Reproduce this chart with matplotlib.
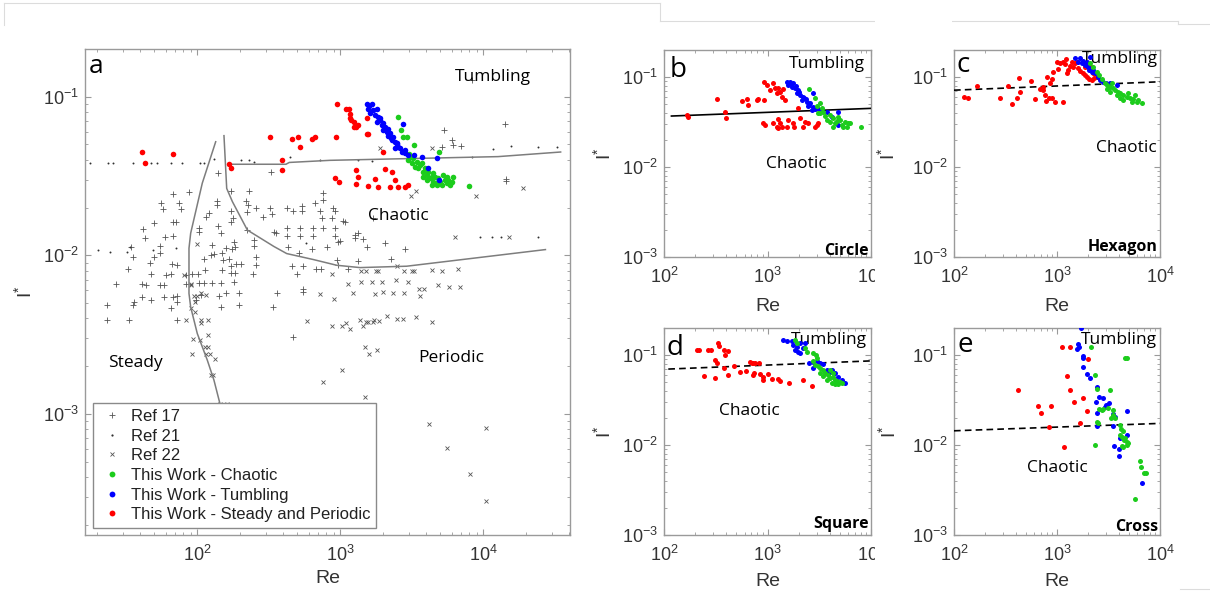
import matplotlib
matplotlib.use("Agg")
import matplotlib.pyplot as plt
import matplotlib.ticker as mticker
from matplotlib.lines import Line2D
from matplotlib.patches import Rectangle

W, H = 1210, 595
plt.rcParams['font.family'] = ['Liberation Sans', 'DejaVu Sans']
plt.rcParams['axes.unicode_minus'] = False
plt.rcParams['mathtext.fontset'] = 'custom'
plt.rcParams['mathtext.rm'] = 'Liberation Sans'
ANN = ['Open Sans', 'DejaVu Sans']

RED, BLUE, GREEN = '#ff0000', '#0000ff', '#1ccc1c'
MK_GREY = '#555555'
BND_GREY = '#7d7d7d'
SPINE = '#9a9a9a'

# ---------------- Panel a : literature data (Re, I*) ----------------
ref17 = [(140, 0.0332), (68, 0.0243), (87.5, 0.0249), (56.1, 0.0213), (74.9, 0.0213), (57.9, 0.0195),
         (77.3, 0.0195), (137, 0.0220), (137, 0.0208), (121, 0.0185), (173, 0.0191), (178, 0.0171),
         (115, 0.0175), (68, 0.0163), (70.6, 0.0163), (49.8, 0.0159), (42, 0.0147), (43, 0.0128),
         (59.5, 0.0131), (68, 0.0132), (103, 0.0148), (103, 0.0141), (140, 0.0152), (146, 0.0139),
         (181, 0.0122), (224, 0.0144), (249, 0.0125), (322, 0.0198), (335, 0.0181), (344, 0.0141),
         (353, 0.0138), (230, 0.0254), (220, 0.0220), (226, 0.0208), (171, 0.0254), (259, 0.0198),
         (290, 0.0175), (326, 0.0337), (224, 0.0188), (171, 0.0163),
         (34.2, 0.01124), (35.7, 0.00976), (32.8, 0.00824), (49.8, 0.00976), (46.7, 0.00894),
         (47.7, 0.00766), (54.9, 0.01034), (54.9, 0.0114), (66.9, 0.00886), (71.7, 0.00865),
         (60.1, 0.00755), (65.8, 0.00766), (82.9, 0.00748), (26.9, 0.00663), (41.3, 0.00663),
         (43.6, 0.00648), (54.9, 0.00648), (58.5, 0.00648), (82.9, 0.00663), (92.3, 0.00766),
         (101, 0.00766), (113, 0.00804), (111, 0.00953), (124, 0.01001), (131, 0.01024),
         (150, 0.01034), (152, 0.0093), (167, 0.00944), (171, 0.00853), (188, 0.00886),
         (201, 0.00878), (171, 0.00774), (185, 0.00774), (245, 0.00766), (256, 0.00865),
         (256, 0.00976), (249, 0.0114), (185, 0.01134), (176, 0.01097), (158, 0.01113),
         (127, 0.0116), (150, 0.00812), (103, 0.00669), (111, 0.00669), (127, 0.00669),
         (146, 0.00669), (181, 0.00679), (158, 0.00579), (196, 0.00579), (142, 0.00555),
         (146, 0.00474), (196, 0.00484), (340, 0.00474), (363, 0.00574), (41.3, 0.00545),
         (47.2, 0.00521), (36.1, 0.00508), (35.7, 0.00484), (23.5, 0.00484), (23.5, 0.0039),
         (33.3, 0.0039), (58.5, 0.00545), (65.8, 0.00463), (68, 0.00545), (71.7, 0.0055),
         (72.5, 0.00508), (71.7, 0.0039), (97.4, 0.00521), (107, 0.00563),
         (433, 0.01134), (517, 0.01034), (637, 0.01097), (802, 0.01134), (968, 0.01219),
         (1527, 0.01134), (2830, 0.01097), (457, 0.00853), (545, 0.00853), (495, 0.00766),
         (676, 0.00824), (728, 0.00824), (942, 0.0093), (968, 0.00865), (1337, 0.00921),
         (2250, 0.00944), (1138, 0.00824), (545, 0.00617), (545, 0.00588), (464, 0.00303),
         (421, 0.0199), (469, 0.019), (537, 0.0204), (537, 0.019), (665, 0.0214), (721, 0.019),
         (740, 0.0173), (760, 0.0246), (760, 0.0224), (893, 0.0199), (918, 0.019), (869, 0.0173),
         (1050, 0.0165), (1079, 0.0161), (421, 0.0148), (421, 0.0132), (522, 0.0148), (640, 0.0148),
         (760, 0.0148), (918, 0.0148), (918, 0.0132), (995, 0.0123), (1265, 0.0135), (1337, 0.0138),
         (1432, 0.0126), (1265, 0.0129), (522, 0.0132), (640, 0.0132), (2053, 0.012), (1702, 0.0173),
         (8400, 0.127), (14200, 0.0676), (14500, 0.0304), (14500, 0.0294), (5300, 0.0619),
         (6000, 0.053), (6180, 0.0493), (7000, 0.0486), (5140, 0.0481)]

ref21 = [(17.8, 0.038), (23.9, 0.038), (25.9, 0.038), (35.7, 0.038), (47.2, 0.038), (52, 0.038),
         (65.8, 0.038), (77.8, 0.038), (104, 0.038), (111, 0.038), (131, 0.0405), (201, 0.040),
         (230, 0.040), (249, 0.039), (445, 0.0418), (721, 0.040), (1337, 0.0399), (1657, 0.0395),
         (8280, 0.0418), (11740, 0.047), (15600, 0.049), (24000, 0.048), (32600, 0.048),
         (20.3, 0.0108), (24.5, 0.0105), (32, 0.0105), (34, 0.0112), (49, 0.0108), (70.6, 0.0111),
         (572, 0.0119), (9530, 0.0130), (11460, 0.0130), (13370, 0.0130), (24000, 0.0130)]

ref22 = [(90.8, 0.00663), (94.8, 0.00555), (99, 0.00555), (107, 0.00579), (115, 0.00563),
         (95.9, 0.00508), (89.9, 0.00463), (95.9, 0.0044), (107, 0.0039), (107, 0.00372),
         (118, 0.0039), (82.9, 0.0039), (119, 0.00316), (93.3, 0.00296), (104, 0.00291),
         (113, 0.00262), (119, 0.00262), (115, 0.0024), (123, 0.0024), (132, 0.00223),
         (92.3, 0.00239), (125, 0.00175), (129, 0.00175), (144, 0.00116), (162, 0.00116),
         (100, 0.01184), (80.7, 0.00748), (89.9, 0.00648),
         (879, 0.00766), (1394, 0.00794), (1510, 0.00794), (1766, 0.00794), (1843, 0.00794),
         (2477, 0.00853), (2802, 0.00794), (3155, 0.00794), (3291, 0.00794), (4397, 0.00812),
         (5113, 0.00794), (6683, 0.00824), (1138, 0.00663), (1394, 0.00679), (1656, 0.00679),
         (1945, 0.00679), (2438, 0.00703), (2988, 0.00679), (3566, 0.00617), (3866, 0.00617),
         (4845, 0.00648), (5783, 0.00632), (6866, 0.00632), (721, 0.0057), (903, 0.00528),
         (1234, 0.00574), (1746, 0.0057), (1999, 0.00584), (2348, 0.00574), (2802, 0.00574),
         (3606, 0.00555), (581, 0.00386), (879, 0.00357), (1021, 0.00357), (1096, 0.00375),
         (1169, 0.00345), (1372, 0.0039), (1432, 0.00357), (1510, 0.0038), (1569, 0.0038),
         (1683, 0.0038), (1728, 0.0039), (1873, 0.00384), (2110, 0.00415), (2504, 0.00395),
         (2730, 0.00395), (3362, 0.00409), (4352, 0.0038), (1486, 0.00265), (1595, 0.0024),
         (1794, 0.00253), (1021, 0.0019), (760, 0.00159), (1486, 0.00128),
         (4170, 0.000861), (10400, 0.000816), (5550, 0.000611), (8070, 0.000415), (10400, 0.000282),
         (4350, 0.0472), (1893, 0.0472), (3100, 0.0238), (3380, 0.0254), (8890, 0.0238),
         (19100, 0.0265), (6380, 0.0131), (15100, 0.013)]

# regime boundaries (Re, I*)
steady_bnd = [(134.5, 0.052), (108.4, 0.0285), (89.9, 0.01377), (87.5, 0.01107), (87.5, 0.00574),
              (89.9, 0.00472), (100, 0.00321), (117.5, 0.00218), (130.8, 0.00163), (144, 0.00116)]
periodic_bnd = [(153.7, 0.0568), (160.6, 0.0264), (176, 0.0218), (224, 0.01442), (344, 0.01135),
                (422, 0.01025), (647, 0.0094), (943, 0.00865), (1374, 0.00836), (2912, 0.00853),
                (12680, 0.0100), (27200, 0.01086)]
tumbling_bnd = [(166.6, 0.0375), (417, 0.0375), (440, 0.0385), (847, 0.0397), (12680, 0.0419),
                (34750, 0.0448)]

# ---------------- Panel a : this work ----------------
a_red = [(41, 0.0448), (43, 0.0383), (68, 0.0433), (168, 0.0374), (171, 0.0357), (321, 0.0557),
         (391, 0.0397), (391, 0.0343), (456, 0.0538), (509, 0.0557), (525, 0.0482), (632, 0.0538),
         (664, 0.0557), (927, 0.0557), (945, 0.0894), (916, 0.0306), (974, 0.029), (1100, 0.0836),
         (1150, 0.0836), (1170, 0.0781), (1170, 0.0737), (1195, 0.0709), (1247, 0.0692),
         (1247, 0.0644), (1285, 0.0644), (1325, 0.0666), (1285, 0.028), (1285, 0.0343),
         (1325, 0.0312), (1527, 0.0737), (1546, 0.0584), (1575, 0.0584), (1567, 0.0275),
         (1750, 0.0304), (1838, 0.027), (1978, 0.0448), (2040, 0.0351), (2210, 0.027),
         (2306, 0.0335), (2425, 0.03), (2533, 0.027), (2830, 0.027), (2957, 0.0276)]
a_blue = [(1545, 0.0898), (1673, 0.0898), (1570, 0.0836), (1794, 0.0836), (1612, 0.0785),
          (1748, 0.0766), (1843, 0.0747), (1893, 0.0712), (1794, 0.0696), (1945, 0.0662),
          (2053, 0.0647), (1999, 0.0616), (2109, 0.0601), (2225, 0.0587), (2166, 0.0568),
          (2347, 0.0559), (2285, 0.0533), (2411, 0.052), (2477, 0.0508), (2544, 0.0484),
          (2411, 0.0472), (2613, 0.0472), (2756, 0.0669), (2830, 0.0461), (2985, 0.0429),
          (2830, 0.0439), (3703, 0.0418), (4124, 0.0353), (4717, 0.0408), (4920, 0.0298),
          (1600, 0.088), (1700, 0.082), (1900, 0.073), (2000, 0.068), (2150, 0.063),
          (2250, 0.055), (2500, 0.050), (2700, 0.045), (3300, 0.043)]
a_green = [(2544, 0.0747), (2641, 0.0616), (2756, 0.0559), (2908, 0.0559), (3288, 0.0496),
           (3034, 0.0433), (3117, 0.0418), (3236, 0.0408), (3417, 0.0389), (3606, 0.0371),
           (3510, 0.0353), (3804, 0.0337), (4014, 0.0321), (4236, 0.0305), (4470, 0.0291),
           (4717, 0.0277), (4977, 0.0291), (5251, 0.0321), (5394, 0.0298), (5541, 0.0284),
           (5847, 0.0277), (6005, 0.0291), (6168, 0.0313), (7980, 0.0275), (4014, 0.0298),
           (4352, 0.0277), (4717, 0.0284), (2985, 0.0399), (3152, 0.038), (3325, 0.0362),
           (3703, 0.038), (3907, 0.0353), (4124, 0.0334), (4352, 0.0313), (4592, 0.0313),
           (4845, 0.0305), (5113, 0.0277), (5692, 0.0298), (3804, 0.0313), (4470, 0.0329),
           (4920, 0.0446), (5541, 0.0313)]

# ---------------- Panel b : Circle ----------------
b_red = [(168, 0.0378), (172, 0.0356), (323, 0.0566), (388, 0.0412), (397, 0.0347), (563, 0.0541),
         (629, 0.0566), (653, 0.0489), (786, 0.0555), (815, 0.057), (925, 0.0555), (932, 0.0887),
         (981, 0.0815), (1057, 0.0717), (1138, 0.085), (1181, 0.0748), (1225, 0.0658), (1272, 0.0748),
         (1320, 0.0687), (1370, 0.0605), (1476, 0.0555), (1402, 0.073), (912, 0.0311), (946, 0.0293),
         (1272, 0.0338), (1320, 0.0305), (1370, 0.0281), (1225, 0.0281), (1531, 0.0276), (1777, 0.0305),
         (1815, 0.0276), (2060, 0.0347), (2303, 0.0319), (2186, 0.0281), (2479, 0.0305), (2876, 0.0281),
         (2983, 0.0293), (3095, 0.0305), (1588, 0.0333), (1986, 0.0449), (1272, 0.0269), (1138, 0.0305)]
b_blue = [(1531, 0.0887), (1648, 0.0887), (1745, 0.085), (1588, 0.0815), (1710, 0.0781), (1844, 0.0748),
          (1986, 0.0717), (1914, 0.0658), (2060, 0.0632), (2218, 0.0605), (2138, 0.0555), (2389, 0.0532),
          (2573, 0.051), (2479, 0.0477), (2773, 0.0468), (2672, 0.043), (2983, 0.0449), (3216, 0.043),
          (3727, 0.0412), (4166, 0.0356), (4833, 0.0412), (4833, 0.0293), (2773, 0.067), (1672, 0.0837),
          (1882, 0.0794), (2030, 0.0687), (2250, 0.058), (2351, 0.0566), (2537, 0.0489), (2876, 0.0438)]
b_green = [(2537, 0.073), (2876, 0.058), (3216, 0.0519), (2983, 0.0477), (3337, 0.0449), (3461, 0.0412),
           (3095, 0.0395), (4015, 0.0378), (4326, 0.0347), (3727, 0.0333), (5015, 0.0333), (5603, 0.0319),
           (6034, 0.0305), (4490, 0.0305), (5203, 0.0293), (5815, 0.0281), (6262, 0.0305), (4326, 0.0281),
           (4015, 0.0319), (7943, 0.0276), (3216, 0.0395), (3591, 0.0368), (4658, 0.0327), (5400, 0.0281),
           (4833, 0.0356)]
b_fit_re = [118, 10000]
b_fit_i = [0.0369, 0.0449]

# ---------------- Panel c : Hexagon ----------------
c_red = [(125, 0.0605), (138, 0.0589), (168, 0.0801), (280, 0.058), (337, 0.0795), (363, 0.0501),
         (412, 0.058), (437, 0.0687), (427, 0.0985), (555, 0.0911), (611, 0.057), (684, 0.073),
         (726, 0.0769), (737, 0.0717), (765, 0.0632), (782, 0.0546), (794, 0.1009), (843, 0.058),
         (888, 0.0589), (901, 0.0952), (921, 0.113), (1031, 0.123), (1070, 0.142), (993, 0.147),
         (1152, 0.148), (1196, 0.14), (1241, 0.11), (1288, 0.12), (1337, 0.134), (1388, 0.148),
         (1440, 0.13), (1495, 0.142), (1552, 0.148), (1611, 0.125), (1672, 0.118), (1774, 0.112),
         (1870, 0.105), (1969, 0.1009), (2060, 0.0944), (2168, 0.0926), (2285, 0.0968), (2425, 0.1009),
         (2217, 0.11), (2089, 0.133), (1870, 0.13), (1152, 0.0532), (956, 0.0532), (1222, 0.157),
         (855, 0.0863)]
c_blue = [(1495, 0.161), (1672, 0.161), (1774, 0.151), (1735, 0.142), (1940, 0.148), (1870, 0.136),
          (2014, 0.13), (2060, 0.12), (2168, 0.1147), (2253, 0.121), (2518, 0.1009), (2614, 0.0926),
          (2817, 0.0887), (2990, 0.0863), (3266, 0.085), (3795, 0.0815), (2089, 0.1654), (1611, 0.148),
          (2338, 0.11)]
c_green = [(2089, 0.142), (2253, 0.128), (2425, 0.1147), (2575, 0.105), (2716, 0.0944), (2925, 0.0863),
           (3067, 0.0815), (3266, 0.0781), (3523, 0.0748), (3658, 0.0717), (3938, 0.0687), (4089, 0.0658),
           (4405, 0.0632), (4746, 0.0605), (5113, 0.058), (5508, 0.0566), (5935, 0.0532), (6636, 0.051),
           (4405, 0.0555), (4089, 0.058), (3795, 0.0632), (4923, 0.0658), (5717, 0.0632), (3266, 0.0687),
           (3034, 0.073), (5306, 0.0532), (6160, 0.0555), (3393, 0.085)]
c_fit_re = [100, 10000]
c_fit_i = [0.0715, 0.0887]

# ---------------- Panel d : Square ----------------
d_red = [(207, 0.1136), (219, 0.1136), (268, 0.1136), (282, 0.1136), (335, 0.137), (343, 0.126),
         (380, 0.1136), (388, 0.1), (311, 0.088), (323, 0.0808), (418, 0.112), (380, 0.0711),
         (474, 0.0757), (243, 0.0587), (311, 0.0554), (418, 0.0601), (615, 0.0672), (677, 0.0848),
         (702, 0.0826), (729, 0.0808), (756, 0.0826), (833, 0.0808), (740, 0.0626), (729, 0.0601),
         (845, 0.0616), (912, 0.0568), (1019, 0.0616), (1097, 0.054), (1272, 0.054), (1320, 0.051),
         (1626, 0.0491), (2186, 0.0532), (2710, 0.0459), (912, 0.0532), (542, 0.0656)]
d_blue = [(1422, 0.149), (1531, 0.145), (1710, 0.142), (1777, 0.129), (1914, 0.124), (1844, 0.1136),
          (1986, 0.109), (2060, 0.1045), (2218, 0.119), (2303, 0.137), (2060, 0.135), (2537, 0.0826),
          (2773, 0.0848), (2983, 0.0866), (3216, 0.0826), (3461, 0.08), (3727, 0.0682), (4015, 0.0656),
          (4490, 0.0626), (4833, 0.0568), (5203, 0.0532), (5603, 0.0491), (2773, 0.0711), (4166, 0.0682)]
d_green = [(1844, 0.1471), (1914, 0.135), (2303, 0.119), (2389, 0.109), (2773, 0.1045), (2940, 0.1),
           (2983, 0.0917), (2773, 0.0866), (2876, 0.0774), (3095, 0.0757), (3216, 0.0711), (3461, 0.0682),
           (3591, 0.0626), (3867, 0.0601), (4015, 0.0554), (4326, 0.0568), (4490, 0.0532), (4658, 0.051),
           (5015, 0.05), (4166, 0.0491), (4490, 0.0471), (4833, 0.0471), (5203, 0.0491), (4015, 0.0682),
           (3216, 0.0626), (3461, 0.058), (4326, 0.0626), (3727, 0.0532)]
d_fit_re = [110, 10000]
d_fit_i = [0.0699, 0.0862]

# ---------------- Panel e : Cross ----------------
e_red = [(421, 0.0405), (649, 0.0272), (699, 0.0228), (868, 0.0274), (842, 0.016), (1109, 0.1238),
         (1337, 0.1217), (1241, 0.0589), (1337, 0.0408), (1462, 0.0299), (1774, 0.033), (1940, 0.0241),
         (1672, 0.0177), (2014, 0.0903), (1178, 0.00958)]
e_blue = [(1698, 0.198), (1611, 0.1325), (1648, 0.1217), (1552, 0.1156), (1802, 0.0975), (1774, 0.0918),
          (1802, 0.0729), (1969, 0.0615), (2089, 0.055), (2425, 0.0437), (2575, 0.0344), (2817, 0.033),
          (2990, 0.0278), (3222, 0.029), (2925, 0.0266), (2391, 0.0303), (2425, 0.0229), (3523, 0.0221),
          (3658, 0.0206), (3470, 0.0163), (4746, 0.0241), (4815, 0.0129), (4089, 0.0119), (3574, 0.00975),
          (4029, 0.00895), (3972, 0.00761), (6636, 0.00382), (2462, 0.0163)]
e_green = [(2121, 0.1217), (2338, 0.06), (2462, 0.0415), (2518, 0.0174), (2575, 0.025), (2716, 0.0245),
           (2817, 0.0254), (3148, 0.0261), (3266, 0.0408), (3318, 0.0198), (3470, 0.0215), (3658, 0.0198),
           (4089, 0.0167), (4150, 0.0149), (4089, 0.0129), (4245, 0.0124), (4405, 0.0142), (4471, 0.01136),
           (4571, 0.0119), (4746, 0.01091), (4815, 0.01006), (4923, 0.01048), (4405, 0.00958),
           (4245, 0.00982), (4571, 0.0918), (4815, 0.0918), (6398, 0.0067), (6495, 0.00574),
           (6980, 0.00484), (7305, 0.00484), (5717, 0.00249), (2338, 0.01006), (2462, 0.01817),
           (3470, 0.0245)]
e_fit_re = [100, 10000]
e_fit_i = [0.0144, 0.0174]

legend_labels = ['Ref 17', 'Ref 21', 'Ref 22', 'This Work - Chaotic', 'This Work - Tumbling',
                 'This Work - Steady and Periodic']


def unzip(pts):
    return [p[0] for p in pts], [p[1] for p in pts]


def rect(l, t, r, b):
    return [l / W, 1 - b / H, (r - l) / W, (b - t) / H]


def style(ax):
    ax.set_xscale('log')
    ax.set_yscale('log')
    for s in ax.spines.values():
        s.set_color(SPINE)
        s.set_linewidth(1.0)
    ax.tick_params(which='both', direction='in', top=True, right=True, color=SPINE,
                   labelcolor='#333333', labelsize=13)
    ax.tick_params(which='major', length=4.5, width=0.8)
    ax.tick_params(which='minor', length=2.5, width=0.6)
    ax.tick_params(axis='x', pad=7)
    ax.tick_params(axis='y', pad=4)
    for axis in (ax.xaxis, ax.yaxis):
        axis.set_major_locator(mticker.LogLocator(base=10, numticks=12))
        axis.set_minor_locator(mticker.LogLocator(base=10, subs=range(2, 10), numticks=12))
        axis.set_minor_formatter(mticker.NullFormatter())


def dots(ax, pts, color, ms):
    x, y = unzip(pts)
    ax.plot(x, y, ls='none', marker='o', ms=ms, mfc=color, mec='none', zorder=4)


fig = plt.figure(figsize=(W / 100, H / 100), dpi=100)

# ---------------- Panel a ----------------
ax = fig.add_axes(rect(85, 49, 570, 535))
style(ax)
x, y = unzip(ref17)
ax.plot(x, y, ls='none', marker='+', ms=4.2, mew=0.6, color=MK_GREY, zorder=2)
x, y = unzip(ref21)
ax.plot(x, y, ls='none', marker='o', ms=1.4, mec='none', mfc='#303030', zorder=2)
x, y = unzip(ref22)
ax.plot(x, y, ls='none', marker='x', ms=2.8, mew=0.6, color=MK_GREY, zorder=2)
for bnd in (steady_bnd, periodic_bnd, tumbling_bnd):
    x, y = unzip(bnd)
    ax.plot(x, y, color=BND_GREY, lw=1.1, zorder=3)
dots(ax, a_green, GREEN, 4.0)
dots(ax, a_blue, BLUE, 4.0)
dots(ax, a_red, RED, 4.0)
ax.set_xlim(16.4, 4.04e4)
ax.set_ylim(1.72e-4, 0.2)
ax.set_xlabel('Re', fontsize=14, color='#333333')
ax.set_ylabel(r'I$^{*}$', fontsize=14, color='#333333')
ax.xaxis.set_label_coords(0.5, -0.072)
ax.yaxis.set_label_coords(-0.100, 0.5)

handles = [Line2D([], [], ls='none', marker='+', ms=5, mew=0.6, color=MK_GREY),
           Line2D([], [], ls='none', marker='o', ms=1.6, mec='none', mfc='#303030'),
           Line2D([], [], ls='none', marker='x', ms=3.5, mew=0.6, color=MK_GREY),
           Line2D([], [], ls='none', marker='o', ms=4.2, mec='none', mfc=GREEN),
           Line2D([], [], ls='none', marker='o', ms=4.2, mec='none', mfc=BLUE),
           Line2D([], [], ls='none', marker='o', ms=4.2, mec='none', mfc=RED)]
leg = ax.legend(handles, legend_labels, loc='lower left', bbox_to_anchor=(0.0165, 0.0144),
                borderaxespad=0, fontsize=12, frameon=True, fancybox=False, framealpha=1,
                edgecolor='#8a8a8a', borderpad=0.35, handlelength=1.6, handletextpad=0.33,
                labelspacing=0.28)
leg.get_frame().set_linewidth(1.0)
leg.set_zorder(10)
for t in leg.get_texts():
    t.set_color('#222222')

ax.text(0.008, 0.9506, 'a', transform=ax.transAxes, fontsize=19, family=ANN, va='baseline', ha='left')
ax.text(0.763, 0.934, 'Tumbling', transform=ax.transAxes, fontsize=12.5, family=ANN, va='baseline')
ax.text(0.5835, 0.648, 'Chaotic', transform=ax.transAxes, fontsize=12.5, family=ANN, va='baseline')
ax.text(0.0474, 0.3457, 'Steady', transform=ax.transAxes, fontsize=12.5, family=ANN, va='baseline')
ax.text(0.687, 0.3566, 'Periodic', transform=ax.transAxes, fontsize=12.5, family=ANN, va='baseline')

# ---------------- Panels b-e ----------------
panels = [
    dict(box=(664, 50, 871, 257), red=b_red, blue=b_blue, green=b_green, fit=(b_fit_re, b_fit_i),
         ls='-', letter='b', letter_xy=(0.025, 0.8696),
         tumb=(0.971, 0.913), chaos=(0.493, 0.430, 'left'), shape='Circle', shape_y=0.012,
         ylab_x=-0.237, xlab_y=-0.200, z=1),
    dict(box=(954, 50, 1160, 257), red=c_red, blue=c_blue, green=c_green, fit=(c_fit_re, c_fit_i),
         ls='--', letter='c', letter_xy=(0.012, 0.895),
         tumb=(0.990, 0.936), chaos=(0.985, 0.509, 'right'), shape='Hexagon', shape_y=0.030,
         ylab_x=-0.265, xlab_y=-0.200, z=3),
    dict(box=(664, 328, 871, 535), red=d_red, blue=d_blue, green=d_green, fit=(d_fit_re, d_fit_i),
         ls='--', letter='d', letter_xy=(0.012, 0.870),
         tumb=(0.981, 0.923), chaos=(0.266, 0.580, 'left'), shape='Square', shape_y=0.032,
         ylab_x=-0.237, xlab_y=-0.185, z=1),
    dict(box=(954, 328, 1160, 535), red=e_red, blue=e_blue, green=e_green, fit=(e_fit_re, e_fit_i),
         ls='--', letter='e', letter_xy=(0.017, 0.886),
         tumb=(0.985, 0.921), chaos=(0.354, 0.306, 'left'), shape='Cross', shape_y=0.021,
         ylab_x=-0.260, xlab_y=-0.185, z=3),
]

for p in panels:
    ax = fig.add_axes(rect(*p['box']))
    ax.set_zorder(p['z'])
    style(ax)
    ax.plot(p['fit'][0], p['fit'][1], color='black', lw=1.2, ls=p['ls'], zorder=3,
            dashes=(4, 2.5) if p['ls'] == '--' else (None, None))
    dots(ax, p['red'], RED, 3.6)
    dots(ax, p['blue'], BLUE, 3.6)
    dots(ax, p['green'], GREEN, 3.6)
    ax.set_xlim(100, 1e4)
    ax.set_ylim(1e-3, 0.2)
    ax.set_xlabel('Re', fontsize=14, color='#333333')
    ax.set_ylabel(r'I$^{*}$', fontsize=14, color='#333333')
    ax.xaxis.set_label_coords(0.5, p['xlab_y'])
    ax.yaxis.set_label_coords(p['ylab_x'], 0.5)
    ax.text(p['letter_xy'][0], p['letter_xy'][1], p['letter'], transform=ax.transAxes,
            fontsize=20, family=ANN, va='baseline', ha='left')
    ax.text(p['tumb'][0], p['tumb'][1], 'Tumbling', transform=ax.transAxes,
            fontsize=12.5, family=ANN, va='baseline', ha='right')
    ax.text(p['chaos'][0], p['chaos'][1], 'Chaotic', transform=ax.transAxes,
            fontsize=12.5, family=ANN, va='baseline', ha=p['chaos'][2])
    ax.text(0.99, p['shape_y'], p['shape'], transform=ax.transAxes,
            fontsize=11.5, family=ANN, weight='bold', va='baseline', ha='right')

# white strip that trims the right-most tick label of panels b and d (as in the composite)
fig.add_artist(Rectangle((875 / W, 0), (952 - 875) / W, 1, transform=fig.transFigure,
                         facecolor='white', edgecolor='none', zorder=2))

# faint frame lines of the composite
fc = '#dcdcdc'
for xs, ys in [((4, 660), (3, 3)), ((660, 660), (3, 21)), ((660, 1178), (21, 21)),
               ((1178, 1178), (21, 24)), ((1178, 1210), (24, 24)), ((4, 4), (3, 25)),
               ((1180, 1210), (589, 589))]:
    fig.add_artist(Line2D([xs[0] / W, xs[1] / W], [1 - ys[0] / H, 1 - ys[1] / H],
                          transform=fig.transFigure, color=fc, lw=0.8, zorder=0))

fig.savefig('out.png', dpi=100)
